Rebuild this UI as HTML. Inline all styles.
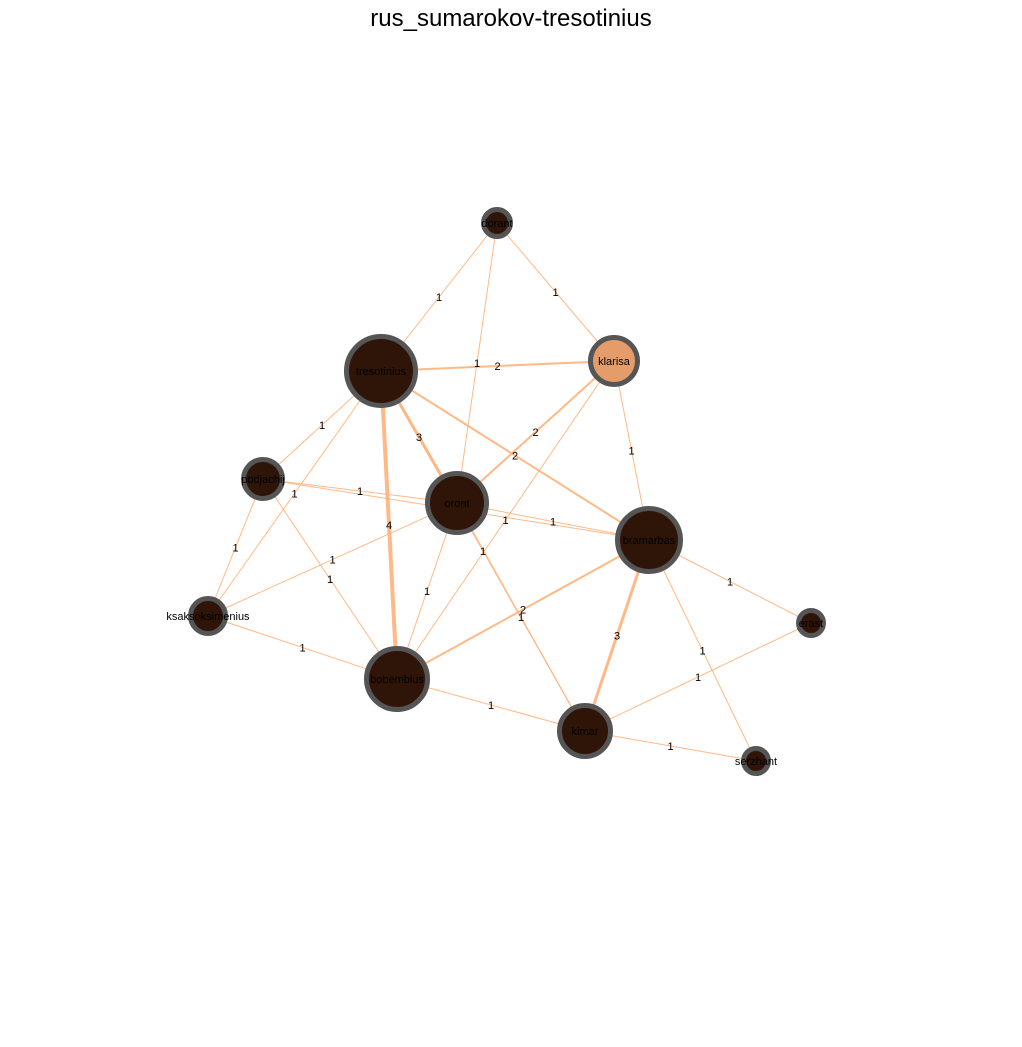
<!DOCTYPE html>
<html><head><meta charset="utf-8"><style>
body{margin:0;background:#fff;}
svg{display:block;font-family:"Liberation Sans","DejaVu Sans",sans-serif;}
</style></head><body>
<svg id="chart" width="1022" height="1047" viewBox="0 0 1022 1047">
<text x="511" y="26" text-anchor="middle" font-size="24" fill="#000">rus_sumarokov-tresotinius</text>
<g id="edges"></g>
<g id="elabels"></g>
<g id="nodes"></g>
</svg>
<script>
const nodeNames = ["dorant","tresotinius","klarisa","podjachij","oront","bramarbas","ksaksoksimenius","bobembius","kimar","erast","serzhant"];
const nodeX = [497,381,614,263,457,649,208,397,585,811,756];
const nodeY = [223,371,361,479,503,540,616,679,731,623,761];
const nodeSize = [16,37,26,22,32,34,20,33,28,15,15];
const edgeSource = ["dorant","dorant","dorant","tresotinius","tresotinius","tresotinius","tresotinius","tresotinius","tresotinius","tresotinius","klarisa","klarisa","klarisa","podjachij","podjachij","podjachij","podjachij","oront","oront","oront","oront","oront","bramarbas","bramarbas","bramarbas","bramarbas","ksaksoksimenius","bobembius","kimar","kimar"];
const edgeTarget = ["tresotinius","klarisa","oront","klarisa","oront","bramarbas","bobembius","podjachij","ksaksoksimenius","kimar","oront","bramarbas","bobembius","oront","bramarbas","ksaksoksimenius","bobembius","ksaksoksimenius","bobembius","kimar","bramarbas","ksaksoksimenius","bobembius","kimar","erast","serzhant","bobembius","kimar","erast","serzhant"];
const edgeWeight = [1,1,1,2,3,2,4,1,1,1,2,1,1,1,1,1,1,1,1,1,1,0,2,3,1,1,1,1,1,1];
const NS="http://www.w3.org/2000/svg";
const idx = n => nodeNames.indexOf(n);
const eg=document.getElementById('edges'), lg=document.getElementById('elabels'), ng=document.getElementById('nodes');
const seen=new Set();
for(let i=0;i<edgeSource.length;i++){
  const w=edgeWeight[i]; if(!w) continue;
  const a=idx(edgeSource[i]), b=idx(edgeTarget[i]);
  const key=[a,b].sort().join('-'); if(seen.has(key)) continue; seen.add(key);
  const l=document.createElementNS(NS,'line');
  l.setAttribute('x1',nodeX[a]);l.setAttribute('y1',nodeY[a]);l.setAttribute('x2',nodeX[b]);l.setAttribute('y2',nodeY[b]);
  l.setAttribute('stroke','#ffb27a');l.setAttribute('stroke-width',w);l.setAttribute('opacity','0.9');
  
  
  eg.appendChild(l);
  const t=document.createElementNS(NS,'text');
  t.setAttribute('x',(nodeX[a]+nodeX[b])/2);t.setAttribute('y',(nodeY[a]+nodeY[b])/2+4);
  t.setAttribute('text-anchor','middle');t.setAttribute('font-size','11');t.textContent=w;
  
  
  lg.appendChild(t);
}
for(let i=0;i<nodeNames.length;i++){
  const c=document.createElementNS(NS,'circle');
  c.setAttribute('cx',nodeX[i]);c.setAttribute('cy',nodeY[i]);c.setAttribute('r',nodeSize[i]-2.5);
  c.setAttribute('fill',nodeNames[i]==='klarisa'?'#e59c6b':'#2e1508');
  c.setAttribute('stroke','#555');c.setAttribute('stroke-width','5');
  
  
  ng.appendChild(c);
  const t=document.createElementNS(NS,'text');
  t.setAttribute('x',nodeX[i]);t.setAttribute('y',nodeY[i]+4);t.setAttribute('text-anchor','middle');
  t.setAttribute('font-size','11');t.textContent=nodeNames[i];
  
  
  ng.appendChild(t);
}
</script>
</body></html>
